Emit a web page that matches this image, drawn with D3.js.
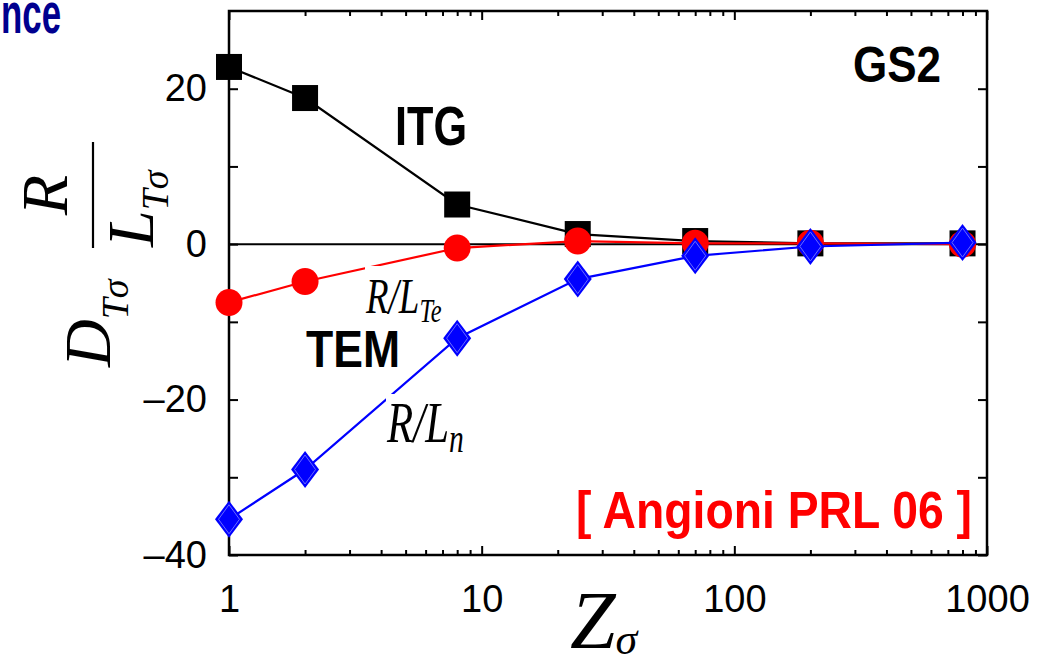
<!DOCTYPE html>
<html>
<head>
<meta charset="utf-8">
<script src="https://cdn.jsdelivr.net/npm/d3@7"></script>
<style>
  body { margin: 0; background: #fff; }
  svg { display: block; }
</style>
</head>
<body>
<svg id="chart" width="1048" height="665"></svg>
<script>
// Normalised gradient driving each mode vs. impurity charge Z
const zValues       = [1, 2, 8, 24, 70, 200, 800];
const itgValues     = [22.8, 18.8, 5.1, 1.3, 0.4, 0.1, 0.1];
const temValues     = [-7.5, -4.8, -0.5, 0.4, 0.1, 0.1, 0.0];
const densityValues = [-35.4, -29.0, -12.1, -4.5, -1.5, -0.3, 0.2];

const xTickValues = [1, 10, 100, 1000];
const xTickLabels = ["1", "10", "100", "1000"];
const yTickValues = [-40, -30, -20, -10, 0, 10, 20];
const yTickLabels = ["–40", "", "–20", "", "0", "", "20"];

const W = 1048, H = 665;
const plot = { left: 229, right: 987, top: 11, bottom: 555 };

const svg = d3.select("#chart");
svg.append("rect").attr("width", W).attr("height", H).attr("fill", "#fff");

const x = d3.scaleLog().domain([1, 1000]).range([plot.left, plot.right]);
const y = d3.scaleLinear().domain([-40, 30]).range([plot.bottom, plot.top]);

const minorX = [];
[1, 10, 100].forEach(dec => { for (let k = 2; k <= 9; k++) minorX.push(dec * k); });

const sansNum = "'Liberation Sans', Arial, Helvetica, sans-serif";
const serif = "'Liberation Serif', 'Times New Roman', serif";

function styleAxis(g) {
  g.select(".domain").remove();
  g.selectAll(".tick line").attr("stroke", "#000").attr("stroke-width", 2);
  g.selectAll(".tick text").attr("fill", "#000")
    .style("font-family", sansNum).style("font-size", "38px");
}

// bottom axis: decades with labels, minor ticks inside
const xLabelMap = new Map(xTickValues.map((v, i) => [v, xTickLabels[i]]));
svg.append("g").attr("transform", `translate(0,${plot.bottom})`)
  .call(d3.axisBottom(x).tickValues(xTickValues).tickSize(-9).tickPadding(30)
    .tickFormat(d => xLabelMap.get(d)))
  .call(styleAxis);
svg.append("g").attr("transform", `translate(0,${plot.bottom})`)
  .call(d3.axisBottom(x).tickValues(minorX).tickSize(-5).tickFormat(""))
  .call(styleAxis);
// top axis mirrors the ticks
svg.append("g").attr("transform", `translate(0,${plot.top})`)
  .call(d3.axisTop(x).tickValues(xTickValues).tickSize(-9).tickFormat(""))
  .call(styleAxis);
svg.append("g").attr("transform", `translate(0,${plot.top})`)
  .call(d3.axisTop(x).tickValues(minorX).tickSize(-5).tickFormat(""))
  .call(styleAxis);

// left / right axes
const yLabelMap = new Map(yTickValues.map((v, i) => [v, yTickLabels[i]]));
svg.append("g").attr("transform", `translate(${plot.left},0)`)
  .call(d3.axisLeft(y).tickValues(yTickValues).tickSize(-9).tickPadding(22)
    .tickFormat(d => yLabelMap.get(d)))
  .call(styleAxis);
svg.append("g").attr("transform", `translate(${plot.right},0)`)
  .call(d3.axisRight(y).tickValues(yTickValues).tickSize(-9).tickFormat(""))
  .call(styleAxis);

// frame
svg.append("rect")
  .attr("x", plot.left).attr("y", plot.top)
  .attr("width", plot.right - plot.left).attr("height", plot.bottom - plot.top)
  .attr("fill", "none").attr("stroke", "#000").attr("stroke-width", 2.5);

// zero reference line
svg.append("line")
  .attr("x1", plot.left).attr("x2", plot.right)
  .attr("y1", y(0)).attr("y2", y(0))
  .attr("stroke", "#000").attr("stroke-width", 2);

const series = [
  { name: "ITG", values: itgValues, color: "#000", marker: "square" },
  { name: "TEM", values: temValues, color: "#ff0000", marker: "circle" },
  { name: "Ln",  values: densityValues, color: "#0000ff", marker: "diamond" }
];

const line = d3.line().x(d => x(d.z)).y(d => y(d.v));

series.forEach(s => {
  const pts = zValues.map((z, i) => ({ z, v: s.values[i] }));
  svg.append("path").datum(pts)
    .attr("d", line).attr("fill", "none")
    .attr("stroke", s.color).attr("stroke-width", 2.2);

  const g = svg.append("g");
  if (s.marker === "square") {
    g.selectAll("rect").data(pts).join("rect")
      .attr("x", d => x(d.z) - 13).attr("y", d => y(d.v) - 13)
      .attr("width", 26).attr("height", 26).attr("fill", s.color);
  } else if (s.marker === "circle") {
    g.selectAll("circle").data(pts).join("circle")
      .attr("cx", d => x(d.z)).attr("cy", d => y(d.v)).attr("r", 13.5)
      .attr("fill", s.color);
  } else {
    const diamond = (cx, cy, hw, hh) =>
      `M${cx},${cy - hh}L${cx + hw},${cy}L${cx},${cy + hh}L${cx - hw},${cy}Z`;
    g.selectAll("path.outer").data(pts).join("path").attr("class", "outer")
      .attr("d", d => diamond(x(d.z), y(d.v), 14, 18.5))
      .attr("fill", s.color);
    g.selectAll("path.inner").data(pts).join("path").attr("class", "inner")
      .attr("d", d => diamond(x(d.z), y(d.v), 10.5, 14.5))
      .attr("fill", "none").attr("stroke", "#6a6aff").attr("stroke-width", 1);
  }
});

// curve annotations
const boldSans = "'Liberation Sans', Arial, Helvetica, sans-serif";
function boldLabel(txt, px, py, size, len, color) {
  svg.append("text").attr("x", px).attr("y", py)
    .attr("textLength", len).attr("lengthAdjust", "spacingAndGlyphs")
    .style("font-family", boldSans).style("font-weight", "bold")
    .style("font-size", size + "px").attr("fill", color).text(txt);
}
boldLabel("ITG", 395, 145, 56, 72, "#000");
boldLabel("TEM", 306, 367, 51, 94, "#000");
boldLabel("GS2", 853, 82, 50, 88, "#000");
boldLabel("[ Angioni PRL 06 ]", 576, 528, 52, 396, "#ff0000");
boldLabel("nce", 1, 33, 58, 60, "#00008f");

// italic gradient labels with white backing
function gradLabel(px, py, bw, bh, size, sub, subSize, subDy, sx) {
  svg.append("rect").attr("x", px - 1).attr("y", py - bh + 12)
    .attr("width", bw).attr("height", bh).attr("fill", "#fff");
  const t = svg.append("text")
    .attr("transform", `translate(${px},${py}) scale(${sx},1)`)
    .style("font-family", serif).style("font-style", "italic")
    .style("font-size", size + "px").attr("fill", "#000");
  t.append("tspan").text("R/L");
  t.append("tspan").attr("dy", subDy).style("font-size", subSize + "px").text(sub);
}
gradLabel(366, 313, 86, 59, 50, "Te", 33, 9, 0.74);
gradLabel(387, 442, 92, 60, 58, "n", 40, 10, 0.74);

// y-axis title, rotated
const yt = svg.append("g").attr("transform", "rotate(-90)")
  .style("font-family", serif).style("font-style", "italic").attr("fill", "#000");
const dText = yt.append("text").attr("x", -367).attr("y", 110).style("font-size", "66px");
dText.append("tspan").text("D");
dText.append("tspan").attr("dy", 18).style("font-size", "38px").text("Tσ");
yt.append("text").attr("x", -195).attr("y", 67).attr("text-anchor", "middle")
  .style("font-size", "66px").text("R");
yt.append("line").attr("x1", -248).attr("x2", -142).attr("y1", 93).attr("y2", 93)
  .attr("stroke", "#000").attr("stroke-width", 2.2);
const lText = yt.append("text").attr("x", -247).attr("y", 153).style("font-size", "66px");
lText.append("tspan").text("L");
lText.append("tspan").attr("dy", 15).style("font-size", "38px").text("Tσ");

// x-axis title
const xt = svg.append("text").attr("x", 570).attr("y", 648)
  .style("font-family", serif).style("font-style", "italic")
  .style("font-size", "82px").attr("fill", "#000");
xt.append("tspan").text("Z");
xt.append("tspan").attr("dy", 6).style("font-size", "44px").text("σ");
</script>
</body>
</html>
